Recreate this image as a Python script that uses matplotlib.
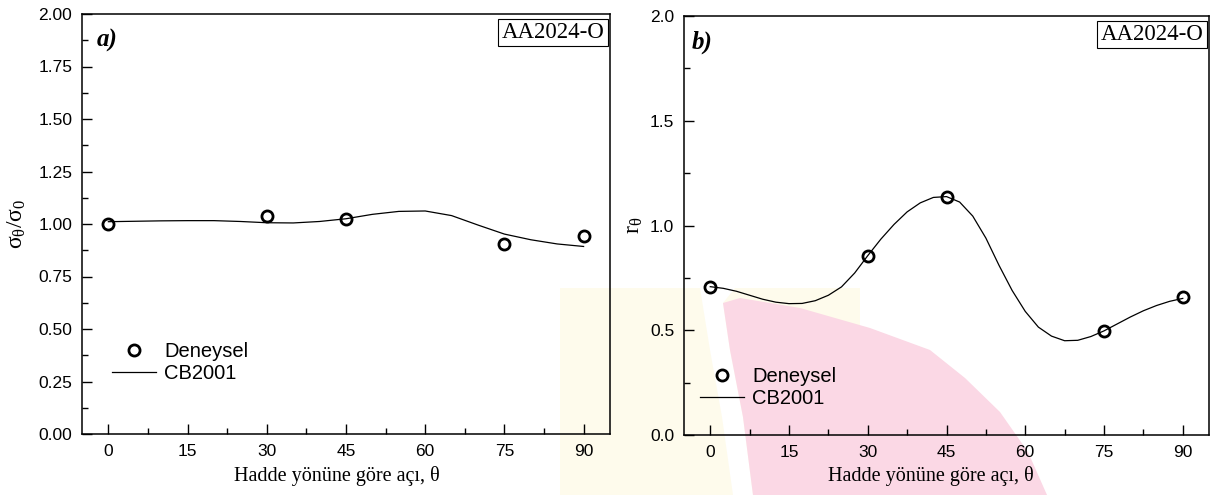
import matplotlib
matplotlib.use("Agg")
import matplotlib.pyplot as plt
import numpy as np
from matplotlib.patches import Polygon
from matplotlib.ticker import MultipleLocator, FormatStrFormatter

# experimental points (Deneysel)
exp_angles = [0, 30, 45, 75, 90]
sig_exp = [1.000, 1.036, 1.023, 0.904, 0.941]
r_exp = [0.708, 0.855, 1.138, 0.497, 0.657]

# CB2001 prediction
fit_angles_a = [0, 5, 10, 15, 20, 25, 30, 35, 40, 45, 50, 55, 60, 65, 70, 75, 80, 85, 90]
sig_fit = [1.011, 1.013, 1.015, 1.016, 1.016, 1.012, 1.006, 1.005, 1.012, 1.025,
           1.046, 1.060, 1.062, 1.040, 0.995, 0.952, 0.925, 0.905, 0.893]

fit_angles_b = [0, 2.5, 5, 7.5, 10, 12.5, 15, 17.5, 20, 22.5, 25, 27.5, 30, 32.5, 35,
                37.5, 40, 42.5, 45, 47.5, 50, 52.5, 55, 57.5, 60, 62.5, 65, 67.5, 70,
                72.5, 75, 77.5, 80, 82.5, 85, 87.5, 90]
r_fit = [0.708, 0.700, 0.686, 0.667, 0.648, 0.634, 0.627, 0.628, 0.641, 0.667, 0.707,
         0.773, 0.856, 0.935, 1.005, 1.065, 1.108, 1.134, 1.138, 1.112, 1.045, 0.940,
         0.810, 0.690, 0.590, 0.515, 0.472, 0.450, 0.452, 0.470, 0.497, 0.530, 0.563,
         0.593, 0.618, 0.638, 0.652]

xticks = [0, 15, 30, 45, 60, 75, 90]

plt.rcParams["mathtext.fontset"] = "custom"
plt.rcParams["mathtext.rm"] = "Liberation Serif"
plt.rcParams["mathtext.it"] = "Liberation Serif:italic"

W, H = 1210, 495
fig = plt.figure(figsize=(W / 100, H / 100), dpi=100)


def px(pts):
    return [(x / W, 1 - y / H) for x, y in pts]


# faint watermark in the background
fig.patches.append(Polygon(px([(560, 288), (860, 288), (860, 495), (560, 495)]),
                           closed=True, transform=fig.transFigure, facecolor="#fefbec",
                           edgecolor="none", zorder=-3))
fig.patches.append(Polygon(px([(700, 288), (735, 288), (723, 303), (730, 350), (743, 417),
                               (753, 495), (733, 495), (722, 417), (710, 350)]),
                           closed=True, transform=fig.transFigure, facecolor="white",
                           edgecolor="none", zorder=-2))
fig.patches.append(Polygon(px([(723, 303), (740, 298), (800, 308), (870, 328), (930, 350),
                               (965, 378), (1000, 412), (1028, 452), (1047, 495),
                               (753, 495), (743, 417), (730, 350)]),
                           closed=True, transform=fig.transFigure, facecolor="#fbd8e5",
                           edgecolor="none", zorder=-1))

ax1 = fig.add_axes([82 / W, 1 - 434 / H, 528 / W, 420 / H])
ax2 = fig.add_axes([684 / W, 1 - 435 / H, 525 / W, 419 / H])

panels = [
    (ax1, sig_fit, fit_angles_a, sig_exp, 0.25, "%.2f", "a)", (0.057, 0.219)),
    (ax2, r_fit, fit_angles_b, r_exp, 0.5, "%.1f", "b)", (0.03, 0.162)),
]

for ax, fit, fit_x, pts, step, fmt, tag, leg_pos in panels:
    ax.set_facecolor("none")
    ax.plot(exp_angles, pts, "o", color="black", markerfacecolor="none",
            markersize=8, markeredgewidth=2, label="Deneysel", zorder=3)
    ax.plot(fit_x, fit, "-", color="black", linewidth=0.9, label="CB2001")
    ax.set_xlim(-5, 95)
    ax.set_ylim(0, 2)
    ax.set_xticks(xticks)
    ax.xaxis.set_minor_locator(MultipleLocator(7.5))
    ax.yaxis.set_major_locator(MultipleLocator(step))
    ax.yaxis.set_minor_locator(MultipleLocator(step / 2))
    ax.yaxis.set_major_formatter(FormatStrFormatter(fmt))
    ax.tick_params(which="both", direction="in", top=False, right=False, width=1)
    ax.tick_params(which="major", length=7, pad=7, labelsize=12.5)
    ax.tick_params(which="minor", length=4)
    for t in ax.get_xticklabels() + ax.get_yticklabels():
        t.set_fontfamily("Liberation Sans")
    for s in ax.spines.values():
        s.set_linewidth(1.1)
    ax.text(0.028 if tag == "a)" else 0.015, 0.937, tag, transform=ax.transAxes,
            fontfamily="Liberation Serif", fontweight="bold", fontstyle="italic",
            fontsize=18, va="center", ha="left")
    ax.text(0.99, 0.981, "AA2024-O", transform=ax.transAxes, ha="right", va="top",
            fontfamily="Liberation Serif", fontsize=16.5,
            bbox=dict(boxstyle="square,pad=0.15", facecolor="white", edgecolor="black", linewidth=0.8))
    ax.set_xlabel("Hadde yönüne göre açı, θ", fontfamily="Liberation Serif", fontsize=14.5)
    ax.legend(loc="upper left", bbox_to_anchor=leg_pos, frameon=False, borderpad=0,
              borderaxespad=0, handlelength=2.2, handletextpad=0.4, labelspacing=0.15,
              prop={"family": "Liberation Sans", "size": 14.5})

ax1.set_ylabel("σ$_{\\rm θ}$/σ$_{\\rm 0}$", fontfamily="Liberation Serif", fontsize=17)
ax2.set_ylabel("r$_{\\rm θ}$", fontfamily="Liberation Serif", fontsize=17)
ax1.yaxis.set_label_coords(-0.102, 0.5)
ax2.yaxis.set_label_coords(-0.074, 0.5)
ax1.xaxis.set_label_coords(0.482, -0.075)
ax2.xaxis.set_label_coords(0.47, -0.074)

fig.savefig("out.png", dpi=100)
